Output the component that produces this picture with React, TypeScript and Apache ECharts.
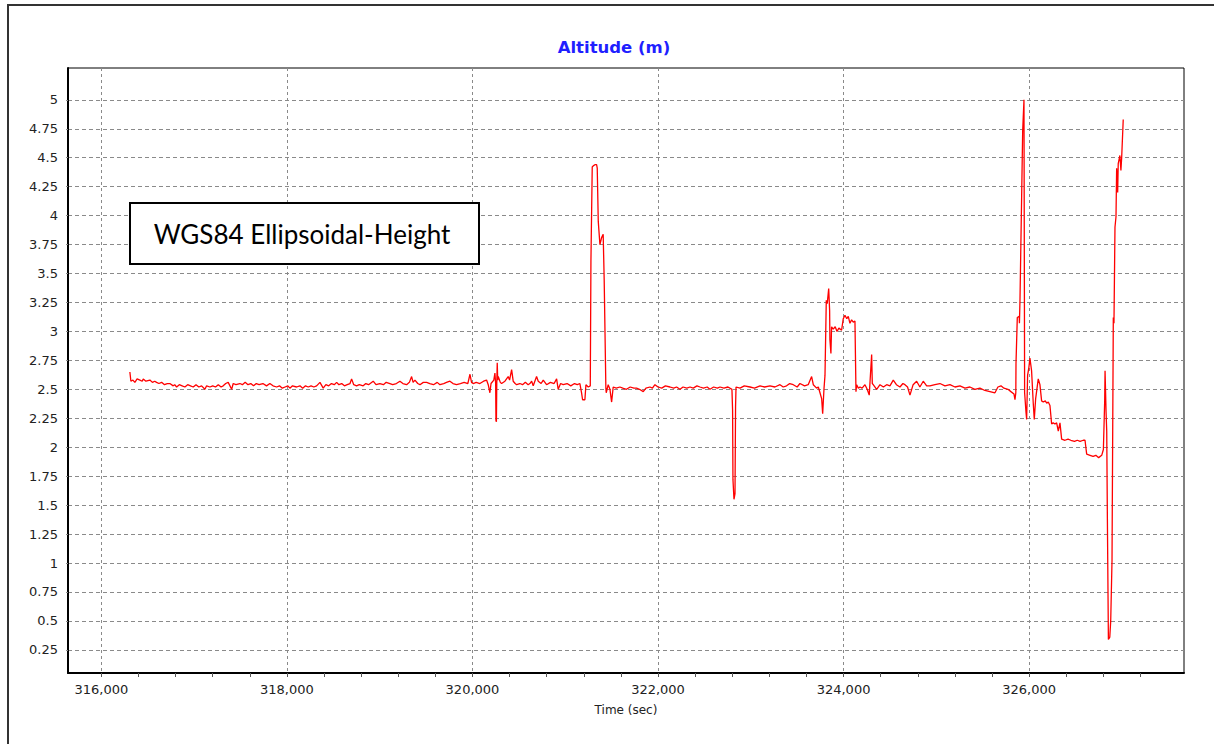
import { useEffect, useRef } from "react";
import * as echarts from "echarts";

// Time (sec) of each sample
const times = [
  316307, 316318, 316340, 316361, 316385, 316415, 316440, 316451, 316480, 316523,
  316550, 316575, 316595, 316620, 316649, 316680, 316710, 316738, 316774, 316790,
  316811, 316840, 316870, 316900, 316930, 316960, 316990, 317020, 317050, 317080,
  317116, 317134, 317170, 317200, 317230, 317260, 317290, 317313, 317340, 317367,
  317404, 317421, 317450, 317493, 317520, 317550, 317580, 317610, 317640, 317670,
  317700, 317741, 317780, 317816, 317850, 317889, 317920, 317950, 317980, 318010,
  318032, 318060, 318104, 318140, 318170, 318200, 318230, 318260, 318290, 318320,
  318356, 318391, 318420, 318450, 318480, 318510, 318536, 318560, 318590, 318620,
  318650, 318680, 318697, 318720, 318751, 318780, 318822, 318850, 318880, 318930,
  318960, 319002, 319040, 319070, 319110, 319140, 319180, 319218, 319250, 319290,
  319320, 319344, 319360, 319380, 319410, 319434, 319470, 319506, 319540, 319580,
  319620, 319649, 319690, 319720, 319757, 319790, 319829, 319870, 319910, 319950,
  319973, 319990, 320008, 320040, 320080, 320120, 320152, 320170, 320188, 320200,
  320230, 320242, 320250, 320253, 320258, 320262, 320267, 320272, 320278, 320300,
  320314, 320350, 320385, 320400, 320422, 320439, 320460, 320476, 320511, 320540,
  320570, 320600, 320619, 320638, 320655, 320691, 320709, 320740, 320763, 320799,
  320840, 320880, 320907, 320924, 320950, 320978, 321020, 321060, 321100, 321130,
  321158, 321176, 321187, 321212, 321223, 321248, 321270, 321277, 321291, 321302,
  321320, 321338, 321345, 321356, 321374, 321392, 321409, 321420, 321438, 321442,
  321463, 321482, 321500, 321517, 321550, 321589, 321620, 321660, 321700, 321740,
  321769, 321800, 321841, 321870, 321913, 321940, 321967, 322000, 322040, 322080,
  322129, 322170, 322200, 322237, 322270, 322310, 322345, 322380, 322420, 322452,
  322490, 322530, 322560, 322600, 322640, 322668, 322710, 322754, 322797, 322804,
  322808, 322819, 322830, 322836, 322841, 322884, 322930, 322992, 323040, 323100,
  323150, 323207, 323260, 323315, 323350, 323386, 323420, 323458, 323500, 323530,
  323580, 323619, 323656, 323674, 323710, 323728, 323746, 323764, 323775, 323789,
  323800, 323814, 323824, 323840, 323850, 323853, 323864, 323871, 323889, 323910,
  323930, 323950, 323979, 323997, 324015, 324035, 324051, 324069, 324087, 324105,
  324123, 324134, 324141, 324160, 324177, 324200, 324231, 324255, 324277, 324303,
  324310, 324320, 324357, 324393, 324430, 324465, 324500, 324536, 324570, 324608,
  324640, 324662, 324690, 324716, 324750, 324788, 324823, 324859, 324896, 324931,
  324985, 325039, 325093, 325147, 325201, 325255, 325309, 325362, 325416, 325470,
  325524, 325578, 325632, 325664, 325697, 325729, 325772, 325804, 325837, 325848,
  325857, 325859, 325873, 325894, 325896, 325902, 325920, 325931, 325945, 325952,
  325966, 325974, 325984, 325998, 326009, 326027, 326045, 326056, 326071, 326099,
  326117, 326135, 326153, 326175, 326190, 326207, 326225, 326243, 326260, 326279,
  326297, 326315, 326333, 326351, 326387, 326420, 326450, 326490, 326520, 326550,
  326584, 326603, 326621, 326657, 326690, 326720, 326750, 326783, 326801, 326815,
  326819, 326830, 326837, 326844, 326855, 326870, 326880, 326894, 326908, 326915,
  326926, 326937, 326944, 326955, 326961, 326979, 326990, 326998, 327015,
];

// Altitude (m), WGS84 ellipsoidal height
const altitude = [
  2.65, 2.57, 2.58, 2.56, 2.59, 2.58, 2.57, 2.59, 2.57, 2.58,
  2.56, 2.57, 2.56, 2.55, 2.56, 2.54, 2.55, 2.55, 2.53, 2.54,
  2.52, 2.54, 2.53, 2.52, 2.54, 2.53, 2.52, 2.54, 2.52, 2.53,
  2.50, 2.53, 2.52, 2.53, 2.52, 2.54, 2.52, 2.53, 2.55, 2.56,
  2.50, 2.55, 2.54, 2.55, 2.54, 2.56, 2.54, 2.55, 2.53, 2.55,
  2.54, 2.55, 2.53, 2.55, 2.53, 2.52, 2.53, 2.51, 2.52, 2.53,
  2.51, 2.53, 2.52, 2.53, 2.51, 2.53, 2.52, 2.53, 2.52, 2.53,
  2.56, 2.51, 2.54, 2.53, 2.55, 2.54, 2.56, 2.54, 2.55, 2.53,
  2.54, 2.55, 2.59, 2.54, 2.53, 2.54, 2.53, 2.55, 2.54, 2.57,
  2.54, 2.55, 2.54, 2.56, 2.55, 2.54, 2.55, 2.57, 2.55, 2.54,
  2.56, 2.61, 2.56, 2.58, 2.55, 2.54, 2.56, 2.56, 2.55, 2.54,
  2.56, 2.54, 2.55, 2.56, 2.57, 2.55, 2.54, 2.55, 2.56, 2.55,
  2.63, 2.56, 2.55, 2.56, 2.55, 2.57, 2.58, 2.54, 2.47, 2.55,
  2.58, 2.64, 2.55, 2.23, 2.22, 2.55, 2.73, 2.58, 2.61, 2.56,
  2.55, 2.57, 2.61, 2.58, 2.67, 2.57, 2.55, 2.54, 2.55, 2.54,
  2.56, 2.54, 2.55, 2.57, 2.53, 2.61, 2.57, 2.55, 2.58, 2.54,
  2.56, 2.55, 2.59, 2.50, 2.55, 2.54, 2.55, 2.53, 2.55, 2.54,
  2.55, 2.47, 2.41, 2.41, 2.54, 2.52, 2.53, 3.61, 4.42, 4.43,
  4.44, 4.44, 4.41, 3.95, 3.75, 3.81, 3.84, 3.44, 2.51, 2.47,
  2.54, 2.50, 2.39, 2.52, 2.51, 2.52, 2.51, 2.50, 2.52, 2.51,
  2.51, 2.50, 2.48, 2.51, 2.52, 2.51, 2.54, 2.52, 2.51, 2.53,
  2.52, 2.51, 2.52, 2.50, 2.52, 2.51, 2.52, 2.51, 2.53, 2.52,
  2.51, 2.52, 2.50, 2.52, 2.51, 2.52, 2.51, 2.52, 2.50, 2.32,
  1.72, 1.55, 1.60, 2.35, 2.52, 2.51, 2.53, 2.52, 2.51, 2.53,
  2.52, 2.53, 2.52, 2.54, 2.52, 2.53, 2.55, 2.54, 2.52, 2.55,
  2.53, 2.54, 2.61, 2.54, 2.51, 2.52, 2.47, 2.42, 2.29, 2.50,
  2.62, 3.27, 3.24, 3.37, 3.18, 2.93, 2.81, 3.04, 3.02, 3.04,
  3.00, 3.03, 3.01, 3.11, 3.14, 3.11, 3.13, 3.07, 3.10, 3.08,
  3.09, 2.48, 2.54, 2.51, 2.52, 2.51, 2.54, 2.50, 2.45, 2.80,
  2.55, 2.54, 2.50, 2.54, 2.52, 2.54, 2.53, 2.58, 2.54, 2.52,
  2.55, 2.54, 2.52, 2.45, 2.54, 2.57, 2.52, 2.57, 2.53, 2.53,
  2.54, 2.55, 2.53, 2.54, 2.52, 2.53, 2.51, 2.52, 2.50, 2.51,
  2.49, 2.48, 2.47, 2.52, 2.53, 2.51, 2.50, 2.48, 2.46, 2.41,
  2.47, 2.72, 3.12, 3.13, 3.07, 3.27, 4.17, 4.73, 5.00, 2.47,
  2.31, 2.24, 2.62, 2.69, 2.77, 2.66, 2.38, 2.24, 2.42, 2.59,
  2.54, 2.40, 2.39, 2.40, 2.38, 2.39, 2.36, 2.20, 2.21, 2.20,
  2.21, 2.14, 2.21, 2.07, 2.06, 2.07, 2.06, 2.05, 2.06, 2.05,
  2.06, 2.06, 1.94, 1.93, 1.92, 1.93, 1.91, 1.93, 1.98, 2.40,
  2.66, 2.30, 2.14, 1.39, 0.34, 0.36, 0.50, 1.02, 3.12, 3.07,
  3.90, 3.99, 4.41, 4.20, 4.45, 4.52, 4.39, 4.50, 4.83,
];

const xLabelValues = [316000, 318000, 320000, 322000, 324000, 326000];
const xTickValues = [
  316000, 316400, 316800, 317200, 317600, 318000, 318400, 318800, 319200, 319600,
  320000, 320400, 320800, 321200, 321600, 322000, 322400, 322800, 323200, 323600,
  324000, 324400, 324800, 325200, 325600, 326000, 326400, 326800, 327200,
];
const yTickValues = [
  0.25, 0.5, 0.75, 1, 1.25, 1.5, 1.75, 2, 2.25, 2.5,
  2.75, 3, 3.25, 3.5, 3.75, 4, 4.25, 4.5, 4.75, 5,
];

const X_MIN = 315640;
const X_MAX = 327670;
const Y_MIN = 0.05;
const Y_MAX = 5.275;

const withCommas = (v: number) =>
  String(Math.round(v)).replace(/\B(?=(\d{3})+(?!\d))/g, ",");

export default function App() {
  const ref = useRef<HTMLDivElement>(null);

  useEffect(() => {
    if (!ref.current) return;
    const chart = echarts.init(ref.current, null, { renderer: "svg" });
    const gridLine = { color: "#8a8a8a", width: 1, type: [4, 3] as number[] };
    chart.setOption({
      animation: false,
      backgroundColor: "#ffffff",
      grid: {
        left: 68,
        top: 68,
        right: 30,
        bottom: 71,
        show: true,
        borderColor: "#000",
        borderWidth: 1,
        backgroundColor: "transparent",
      },
      xAxis: [
        {
          type: "value",
          min: X_MIN,
          max: X_MAX,
          position: "bottom",
          axisLine: { show: true, onZero: false, lineStyle: { color: "#000", width: 2 } },
          axisTick: {
            show: true,
            customValues: xTickValues,
            length: 4,
            lineStyle: { color: "#555", width: 1 },
          },
          axisLabel: {
            customValues: xLabelValues,
            formatter: (v: number) => withCommas(v),
            fontFamily: "DejaVu Sans",
            fontSize: 13,
            color: "#222",
            margin: 10,
          },
          splitLine: { show: false },
          name: "Time (sec)",
          nameLocation: "middle",
          nameGap: 31,
          nameTextStyle: { fontFamily: "DejaVu Sans", fontSize: 12, color: "#222" },
        },
        {
          type: "value",
          min: X_MIN,
          max: X_MAX,
          position: "bottom",
          axisLine: { show: false },
          axisTick: { show: false, customValues: xLabelValues },
          axisLabel: { show: false, customValues: xLabelValues },
          splitLine: { show: true, lineStyle: { color: "#8a8a8a", width: 1, type: [3, 3] } },
        },
      ],
      yAxis: {
        type: "value",
        min: Y_MIN,
        max: Y_MAX,
        axisLine: { show: true, onZero: false, lineStyle: { color: "#000", width: 2 } },
        axisTick: {
          show: true,
          customValues: yTickValues,
          length: 2,
          lineStyle: { color: "#888" },
        },
        axisLabel: {
          customValues: yTickValues,
          formatter: (v: number) => String(+v.toFixed(2)),
          fontFamily: "DejaVu Sans",
          fontSize: 13,
          color: "#222",
          margin: 10,
        },
        splitLine: { show: true, lineStyle: gridLine },
      },
      series: [
        {
          type: "line",
          xAxisIndex: 0,
          yAxisIndex: 0,
          data: times.map((t, i) => [t, altitude[i]]),
          showSymbol: false,
          symbol: "none",
          silent: true,
          lineStyle: { color: "#ff0000", width: 1.3 },
          itemStyle: { color: "#ff0000" },
        },
      ],
      graphic: [
        {
          type: "rect",
          silent: true,
          z: 0,
          shape: { x: 8, y: 5, width: 1230, height: 760 },
          style: { fill: "none", stroke: "#333", lineWidth: 2 },
        },
        {
          type: "text",
          x: 614,
          y: 47,
          z: 10,
          style: {
            text: "Altitude (m)",
            textAlign: "center",
            textVerticalAlign: "middle",
            fontFamily: "DejaVu Sans",
            fontWeight: "bold",
            fontSize: 16.5,
            fill: "#1f1fff",
          },
        },
        {
          type: "rect",
          z: 100,
          shape: { x: 130, y: 203, width: 349, height: 61 },
          style: { fill: "#fff", stroke: "#000", lineWidth: 2 },
        },
        {
          type: "text",
          x: 302,
          y: 234,
          z: 101,
          style: {
            text: "WGS84 Ellipsoidal-Height",
            textAlign: "center",
            textVerticalAlign: "middle",
            fontFamily: "Lato",
            fontSize: 26,
            fill: "#000",
          },
        },
      ],
    });
    return () => chart.dispose();
  }, []);

  return (
    <div
      ref={ref}
      style={{ position: "fixed", left: 0, top: 0, width: 1214, height: 744, background: "#fff" }}
    />
  );
}
